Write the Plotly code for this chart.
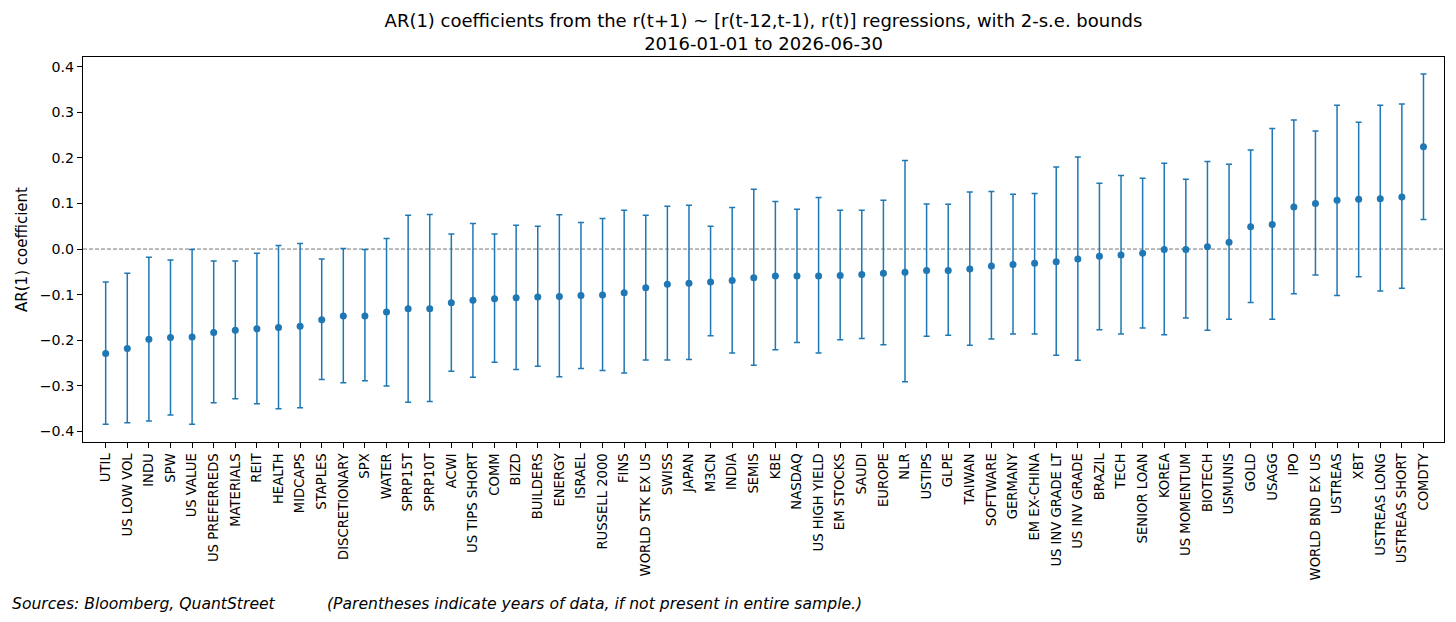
import plotly.graph_objects as go

names = ["UTIL", "US LOW VOL", "INDU", "SPW", "US VALUE", "US PREFERREDS", "MATERIALS", "REIT",
         "HEALTH", "MIDCAPS", "STAPLES", "DISCRETIONARY", "SPX", "WATER", "SPRP15T", "SPRP10T",
         "ACWI", "US TIPS SHORT", "COMM", "BIZD", "BUILDERS", "ENERGY", "ISRAEL", "RUSSELL 2000",
         "FINS", "WORLD STK EX US", "SWISS", "JAPAN", "M3CN", "INDIA", "SEMIS", "KBE", "NASDAQ",
         "US HIGH YIELD", "EM STOCKS", "SAUDI", "EUROPE", "NLR", "USTIPS", "GLPE", "TAIWAN",
         "SOFTWARE", "GERMANY", "EM EX-CHINA", "US INV GRADE LT", "US INV GRADE", "BRAZIL", "TECH",
         "SENIOR LOAN", "KOREA", "US MOMENTUM", "BIOTECH", "USMUNIS", "GOLD", "USAGG", "IPO",
         "WORLD BND EX US", "USTREAS", "XBT", "USTREAS LONG", "USTREAS SHORT", "COMDTY"]

coef = [-0.229, -0.218, -0.198, -0.194, -0.193, -0.183, -0.178, -0.175,
        -0.172, -0.169, -0.155, -0.147, -0.147, -0.138, -0.131, -0.131,
        -0.118, -0.112, -0.109, -0.107, -0.105, -0.104, -0.102, -0.101,
        -0.096, -0.085, -0.077, -0.075, -0.072, -0.069, -0.063, -0.059, -0.059,
        -0.059, -0.058, -0.056, -0.053, -0.051, -0.047, -0.047, -0.044,
        -0.037, -0.034, -0.031, -0.028, -0.022, -0.016, -0.013,
        -0.009, -0.001, -0.001, 0.005, 0.015, 0.049, 0.054, 0.092,
        0.100, 0.107, 0.109, 0.110, 0.114, 0.224]

upper = [-0.072, -0.053, -0.018, -0.024, -0.001, -0.026, -0.026, -0.009,
         0.008, 0.012, -0.022, 0.001, -0.001, 0.023, 0.074, 0.076,
         0.033, 0.056, 0.033, 0.052, 0.050, 0.075, 0.058, 0.067,
         0.085, 0.074, 0.094, 0.096, 0.050, 0.091, 0.131, 0.104, 0.087,
         0.113, 0.085, 0.085, 0.107, 0.194, 0.099, 0.098, 0.125,
         0.126, 0.120, 0.122, 0.180, 0.202, 0.144, 0.161,
         0.155, 0.188, 0.153, 0.192, 0.186, 0.217, 0.264, 0.283,
         0.259, 0.315, 0.278, 0.315, 0.318, 0.384]

lower = [-0.384, -0.381, -0.377, -0.364, -0.384, -0.337, -0.328, -0.339,
         -0.350, -0.348, -0.286, -0.293, -0.289, -0.300, -0.336, -0.334,
         -0.268, -0.281, -0.248, -0.264, -0.257, -0.280, -0.262, -0.266,
         -0.272, -0.243, -0.243, -0.242, -0.190, -0.228, -0.255, -0.221, -0.205,
         -0.228, -0.199, -0.196, -0.210, -0.291, -0.191, -0.189, -0.211,
         -0.197, -0.186, -0.186, -0.233, -0.244, -0.177, -0.186,
         -0.173, -0.188, -0.151, -0.178, -0.154, -0.117, -0.154, -0.098,
         -0.057, -0.102, -0.061, -0.092, -0.086, 0.065]

yticks = [-0.4, -0.3, -0.2, -0.1, 0.0, 0.1, 0.2, 0.3, 0.4]
yticklabels = ["\u22120.4", "\u22120.3", "\u22120.2", "\u22120.1", "0.0", "0.1", "0.2", "0.3", "0.4"]

title_text = "AR(1) coefficients from the r(t+1) ~ [r(t-12,t-1), r(t)] regressions, with 2-s.e. bounds<br>2016-01-01 to 2026-06-30"
source_text = "Sources: Bloomberg, QuantStreet"
note_text = "(Parentheses indicate years of data, if not present in entire sample.)"

blue = "#1f77b4"
font = "DejaVu Sans"

err_plus = [u - c for u, c in zip(upper, coef)]
err_minus = [c - l for c, l in zip(coef, lower)]

fig = go.Figure()
fig.add_trace(go.Scatter(
    x=names, y=coef, mode="markers",
    marker=dict(color=blue, size=7),
    error_y=dict(type="data", symmetric=False, array=err_plus, arrayminus=err_minus,
                 color=blue, thickness=1.5, width=3),
    showlegend=False,
))

fig.add_shape(type="line", xref="paper", yref="y", x0=0, x1=1, y0=0, y1=0,
              line=dict(color="#777777", width=1, dash="4px,2px"), layer="below")

fig.update_layout(
    width=1456, height=622,
    margin=dict(l=83, r=12, t=57, b=180),
    paper_bgcolor="white", plot_bgcolor="white",
    font=dict(family=font, color="black", size=14),
    title=dict(text=title_text, x=0.5, xref="paper", xanchor="center",
               y=1 - 27 / 622, yref="container", yanchor="top",
               font=dict(size=18, family=font, color="black")),
    xaxis=dict(
        type="category", range=[-1.05, 61.95],
        tickangle=-90, tickfont=dict(size=13.2),
        ticks="outside", ticklen=5, tickcolor="black",
        showline=True, mirror=True, linecolor="black", linewidth=1,
        showgrid=False, zeroline=False,
    ),
    yaxis=dict(
        range=[-0.423, 0.421],
        tickvals=yticks, ticktext=yticklabels, tickfont=dict(size=14.2),
        ticks="outside", ticklen=5, tickcolor="black",
        showline=True, mirror=True, linecolor="black", linewidth=1,
        showgrid=False, zeroline=False,
        title=dict(text="AR(1) coefficient", font=dict(size=15), standoff=8),
    ),
    annotations=[
        dict(text="<i>" + source_text + "</i>", xref="paper", yref="paper", x=-83/1361, y=-(604-442)/385,
             xanchor="left", yanchor="middle", showarrow=False, xshift=10,
             font=dict(size=15.6, family=font, color="black")),
        dict(text="<i>" + note_text + "</i>", xref="paper", yref="paper", x=-83/1361, y=-(604-442)/385,
             xanchor="left", yanchor="middle", showarrow=False, xshift=325,
             font=dict(size=15.6, family=font, color="black")),
    ],
)

fig.write_html("out.html", config={"displayModeBar": False},
               post_script="document.body.style.margin='0px';")
